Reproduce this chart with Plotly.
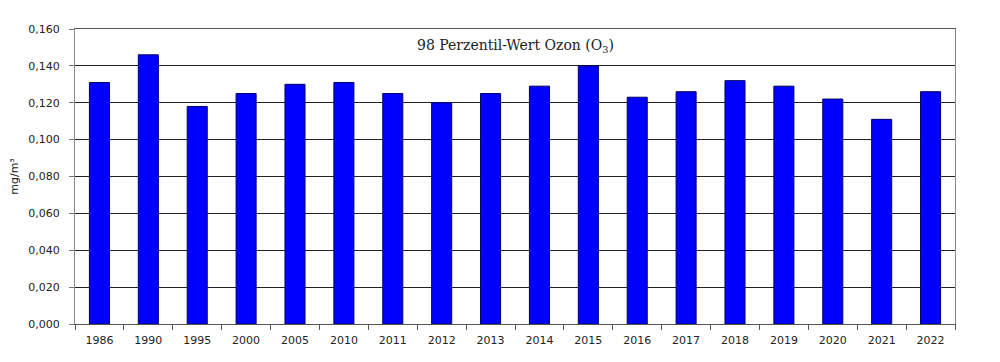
import plotly.graph_objects as go

years = ["1986", "1990", "1995", "2000", "2005", "2010", "2011", "2012", "2013",
         "2014", "2015", "2016", "2017", "2018", "2019", "2020", "2021", "2022"]
values = [0.131, 0.146, 0.118, 0.125, 0.130, 0.131, 0.125, 0.120, 0.125,
          0.129, 0.140, 0.123, 0.126, 0.132, 0.129, 0.122, 0.111, 0.126]
y_ticks = [0.0, 0.02, 0.04, 0.06, 0.08, 0.10, 0.12, 0.14, 0.16]
title_text = "98 Perzentil-Wert Ozon (O<sub>3</sub>)"
y_title = "mg/m³"

fig = go.Figure()
fig.add_trace(go.Bar(
    x=years, y=values,
    marker=dict(color="#0000FF", line=dict(color="#000066", width=1)),
    hoverinfo="x+y",
))

font_main = "DejaVu Sans, Verdana, sans-serif"

fig.update_layout(
    width=1000, height=362,
    margin=dict(l=67, r=53, t=21, b=46),
    paper_bgcolor="white", plot_bgcolor="white",
    bargap=0.59,
    separators=",.",
    showlegend=False,
    font=dict(family=font_main, size=11, color="#222222"),
    xaxis=dict(
        type="category",
        automargin=False,
        showgrid=False,
        ticks="outside", tickson="boundaries", ticklen=5, tickcolor="#555555",
        ticklabelstandoff=6,
        showline=True, linecolor="#555555", linewidth=1, mirror=True,
        tickfont=dict(family=font_main, size=11, color="#222222"),
    ),
    yaxis=dict(
        range=[0, 0.16],
        automargin=False,
        tickvals=y_ticks,
        tickformat=".3f",
        showgrid=True, gridcolor="#222222", gridwidth=1,
        ticks="outside", ticklen=5, tickcolor="#777777",
        ticklabelstandoff=7,
        showline=True, linecolor="#888888", linewidth=1, mirror=True,
        zeroline=False,
        tickfont=dict(family=font_main, size=11, color="#222222"),
        title=dict(text=y_title, font=dict(family=font_main, size=11, color="#222222"), standoff=12),
    ),
    annotations=[dict(
        text=title_text, xref="paper", yref="paper", x=0.5, y=0.944,
        xanchor="center", yanchor="middle", showarrow=False,
        font=dict(family="DejaVu Serif, serif", size=14, color="#222222"),
    )],
)

fig.write_html("out.html")
